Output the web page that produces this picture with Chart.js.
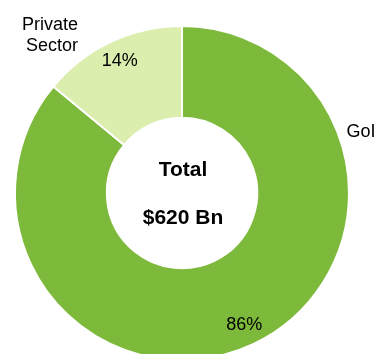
<!DOCTYPE html>
<html>
<head>
<meta charset="utf-8">
<script src="https://cdn.jsdelivr.net/npm/chart.js@4"></script>
<style>
  body { margin: 0; overflow: hidden; background: #fff; }
  #wrap { width: 378px; height: 366px; }
</style>
</head>
<body>
<div id="wrap"><canvas id="myChart"></canvas></div>
<script>
// DATA
const categories = ['GoI', 'Private Sector'];
const shares = [86, 14];
const sliceColors = ['#7DB93A', '#DCEEAE'];
const centerLines = ['Total', '$620 Bn'];

const FONT = '"Liberation Sans", Arial, sans-serif';

// labels drawn on top of the doughnut
const labelPlugin = {
    id: 'labels',
    afterDraw(chart) {
        const c = chart.ctx;
        const arcs = chart.getDatasetMeta(0).data;
        const cx = arcs[0].x, cy = arcs[0].y, R = arcs[0].outerRadius;
        c.save();
        c.fillStyle = '#000';
        c.textAlign = 'center';
        c.textBaseline = 'middle';

        // percentages inside slices
        c.font = '18px ' + FONT;
        arcs.forEach((arc, i) => {
            const mid = (arc.startAngle + arc.endAngle) / 2;
            const r = R - 21;
            c.fillText(shares[i] + '%', cx + r * Math.cos(mid), cy + r * Math.sin(mid));
        });

        // category names outside
        c.fillText('GoI', cx + 179, cy - 61);
        c.fillText('Private', cx - 132, cy - 168);
        c.fillText('Sector', cx - 130, cy - 147);

        // center text
        c.font = 'bold 21px ' + FONT;
        c.fillText(centerLines[0], cx + 1, cy - 23);
        c.fillText(centerLines[1], cx + 1, cy + 25);
        c.restore();
    }
};

const ctx = document.getElementById('myChart').getContext('2d');
const myChart = new Chart(ctx, {
    type: 'doughnut',
    data: {
        labels: categories,
        datasets: [{
            data: shares,
            backgroundColor: sliceColors,
            borderColor: '#fff',
            borderWidth: 2
        }]
    },
    options: {
        responsive: true,
        maintainAspectRatio: false,
        animation: false,
        cutout: '45%',
        layout: { padding: { left: 14, right: 28, top: 25, bottom: 5 } },
        plugins: {
            legend: { display: false },
            tooltip: { enabled: false }
        }
    },
    plugins: [labelPlugin]
});
</script>
</body>
</html>
